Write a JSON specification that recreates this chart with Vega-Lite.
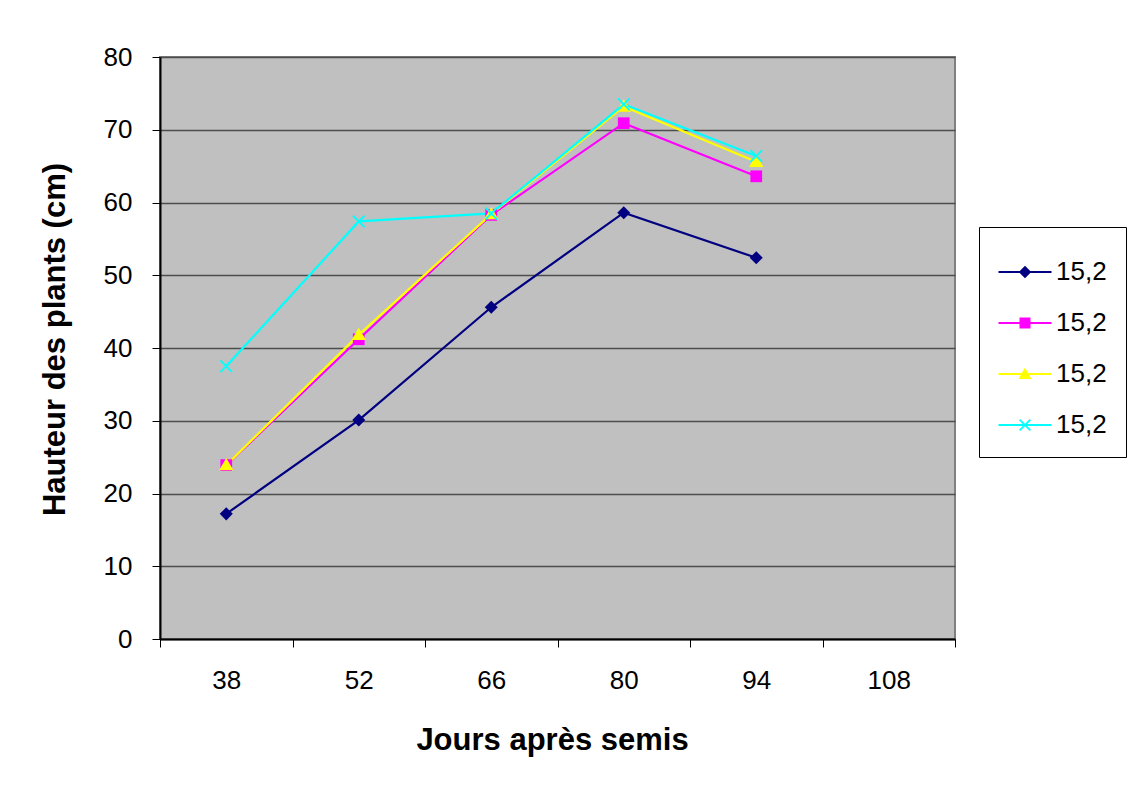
{
  "$schema": "https://vega.github.io/schema/vega-lite/v6.json",
  "width": 795,
  "height": 582,
  "autosize": {"type": "none"},
  "padding": {"left": 160, "top": 57, "right": 179, "bottom": 156},
  "background": "white",
  "config": {
    "font": "Liberation Sans",
    "view": {"fill": "#C0C0C0", "stroke": "#808080", "strokeWidth": 2}
  },
  "data": {
    "values": [
      {"jours": 38, "serie": "A", "hauteur": 17.2},
      {"jours": 52, "serie": "A", "hauteur": 30.1},
      {"jours": 66, "serie": "A", "hauteur": 45.6},
      {"jours": 80, "serie": "A", "hauteur": 58.6},
      {"jours": 94, "serie": "A", "hauteur": 52.4},
      {"jours": 38, "serie": "B", "hauteur": 23.9},
      {"jours": 52, "serie": "B", "hauteur": 41.2},
      {"jours": 66, "serie": "B", "hauteur": 58.3},
      {"jours": 80, "serie": "B", "hauteur": 70.9},
      {"jours": 94, "serie": "B", "hauteur": 63.6},
      {"jours": 38, "serie": "C", "hauteur": 23.9},
      {"jours": 52, "serie": "C", "hauteur": 41.8},
      {"jours": 66, "serie": "C", "hauteur": 58.4},
      {"jours": 80, "serie": "C", "hauteur": 73.2},
      {"jours": 94, "serie": "C", "hauteur": 65.6},
      {"jours": 38, "serie": "D", "hauteur": 37.5},
      {"jours": 52, "serie": "D", "hauteur": 57.4},
      {"jours": 66, "serie": "D", "hauteur": 58.5},
      {"jours": 80, "serie": "D", "hauteur": 73.5},
      {"jours": 94, "serie": "D", "hauteur": 66.4}
    ]
  },
  "encoding": {
    "x": {
      "field": "jours",
      "type": "ordinal",
      "scale": {"type": "band", "domain": [38, 52, 66, 80, 94, 108], "paddingInner": 0, "paddingOuter": 0},
      "axis": {
        "title": "Jours après semis",
        "labelAngle": 0,
        "labelFontSize": 26,
        "labelColor": "#000",
        "labelPadding": 20,
        "tickBand": "extent",
        "tickSize": 8,
        "tickColor": "#000",
        "tickWidth": 1,
        "domainColor": "#000",
        "domainWidth": 2,
        "grid": false,
        "titleFontSize": 31,
        "titleFontWeight": "bold",
        "titleColor": "#000",
        "titleX": 392,
        "titleY": 101,
        "titleBaseline": "middle",
        "titleAnchor": "middle"
      }
    },
    "y": {
      "field": "hauteur",
      "type": "quantitative",
      "scale": {"domain": [0, 80], "nice": false, "zero": true},
      "axis": {
        "title": "Hauteur des plants (cm)",
        "values": [0, 10, 20, 30, 40, 50, 60, 70, 80],
        "labelFontSize": 26,
        "labelColor": "#000",
        "labelPadding": 20,
        "tickSize": 8,
        "tickColor": "#000",
        "domainColor": "#000",
        "domainWidth": 2,
        "grid": true,
        "gridColor": "#4d4d4d",
        "gridWidth": 1.5,
        "titleFontSize": 31,
        "titleFontWeight": "bold",
        "titleColor": "#000",
        "titleAngle": -90,
        "titleX": -105,
        "titleY": 282,
        "titleBaseline": "middle",
        "titleAlign": "center"
      }
    },
    "color": {
      "field": "serie",
      "type": "nominal",
      "scale": {"domain": ["A", "B", "C", "D"], "range": ["#000080", "#FF00FF", "#FFFF00", "#00FFFF"]},
      "legend": null
    }
  },
  "layer": [
    {
      "mark": {"type": "line", "strokeWidth": 2.2}
    },
    {
      "mark": {"type": "point", "filled": true, "opacity": 1, "size": 170},
      "encoding": {
        "shape": {
          "field": "serie",
          "type": "nominal",
          "scale": {"domain": ["A", "B", "C", "D"], "range": ["M0,-1L1,0L0,1L-1,0Z", "M-0.9,-0.9H0.9V0.9H-0.9Z", "M0,-1.1L1.1,0.8H-1.1Z", "M-1,-0.8L-0.8,-1L0,-0.2L0.8,-1L1,-0.8L0.2,0L1,0.8L0.8,1L0,0.2L-0.8,1L-1,0.8L-0.2,0Z"]},
          "legend": null
        }
      }
    },
    {
      "transform": [{"filter": "datum.hauteur > 1000"}],
      "mark": {"type": "point", "filled": true, "opacity": 1},
      "encoding": {
        "color": {
          "field": "serie",
          "type": "nominal",
          "legend": {
            "title": " ",
            "titleFontSize": 1,
            "titlePadding": 12,
            "orient": "none",
            "legendX": 819,
            "legendY": 170,
            "labelExpr": "'15,2'",
            "labelFontSize": 26,
            "labelColor": "#000",
            "labelOffset": 18,
            "symbolOffset": 14,
            "symbolSize": 100,
            "symbolStrokeWidth": 0,
            "symbolOpacity": 1,
            "rowPadding": 25,
            "padding": 19,
            "strokeColor": "#000",
            "fillColor": "#fff",
            "cornerRadius": 0
          }
        },
        "shape": {
          "field": "serie",
          "type": "nominal",
          "scale": {"domain": ["A", "B", "C", "D"], "range": ["M-5.3,-0.22H5.3V0.22H-5.3ZM0,-1.25L1.25,0L0,1.25L-1.25,0Z", "M-5.3,-0.22H5.3V0.22H-5.3ZM-1.1,-1.1H1.1V1.1H-1.1Z", "M-5.3,-0.22H5.3V0.22H-5.3ZM0,-1.3L1.3,1H-1.3Z", "M-5.3,-0.22H5.3V0.22H-5.3ZM-1.2,-0.95L-0.95,-1.2L0,-0.25L0.95,-1.2L1.2,-0.95L0.25,0L1.2,0.95L0.95,1.2L0,0.25L-0.95,1.2L-1.2,0.95L-0.25,0Z"]},
          "legend": {
            "title": " ",
            "titleFontSize": 1,
            "titlePadding": 12,
            "orient": "none",
            "legendX": 819,
            "legendY": 170,
            "labelExpr": "'15,2'",
            "labelFontSize": 26,
            "labelColor": "#000",
            "labelOffset": 18,
            "symbolOffset": 14,
            "symbolSize": 100,
            "symbolStrokeWidth": 0,
            "symbolOpacity": 1,
            "rowPadding": 25,
            "padding": 19,
            "strokeColor": "#000",
            "fillColor": "#fff",
            "cornerRadius": 0
          }
        }
      }
    }
  ],
  "resolve": {"scale": {"shape": "independent"}, "legend": {"color": "independent", "shape": "independent"}}
}
